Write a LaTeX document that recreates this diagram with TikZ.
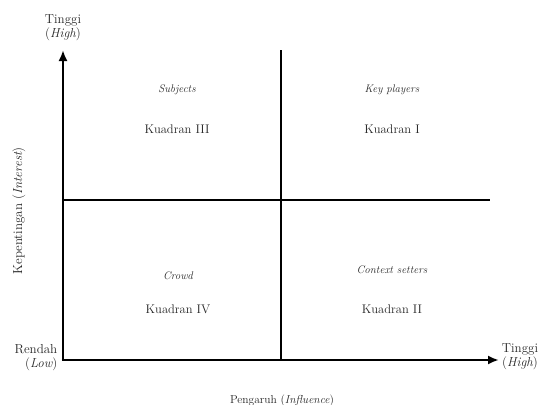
\documentclass[tikz,border=0pt]{standalone}
\usepackage{tikz}
\usetikzlibrary{arrows.meta,positioning}

\begin{document}
\begin{tikzpicture}[x=1pt, y=-1pt,
  axis/.style={line width=2.8pt, -{Latex[length=11pt,width=9pt]}},
  divider/.style={line width=1.8pt},
  quadname/.style={font=\fontsize{12.5}{14}\selectfont, text=black!85},
  role/.style={font=\fontsize{11}{13}\selectfont\itshape, text=black!85},
  axlabel/.style={font=\fontsize{13}{15}\selectfont, text=black!85, align=center, inner sep=0pt}]
  \useasboundingbox (0,0) rectangle (542,405);
  % corner points of the axes
  \coordinate (origin) at (63,360);
  \coordinate (ytip) at (63,50);
  \coordinate (xtip) at (499,360);
  \coordinate (midleft) at (63,200);
  \coordinate (midright) at (490,200);
  \coordinate (divtop) at (281,50);
  \coordinate (divbot) at (281,360);

  % dividers
  \draw[divider] (midleft) -- (midright);
  \draw[divider] (divtop) -- (divbot);

  % axes
  \draw[axis] ([yshift=1.4pt]origin) -- (ytip);
  \draw[axis] ([xshift=-1.4pt]origin) -- (xtip);

  % axis labels
  \node[axlabel] (ytop) at (63,28) {Tinggi\\[-1pt]({\itshape High})};
  \node[axlabel, align=right] (ylow) at (36,358) {Rendah\\[-1pt]({\itshape Low})};
  \node[axlabel] (xhigh) at (520,357) {Tinggi\\[-1pt]({\itshape High})};
  \node[axlabel, font=\fontsize{11.5}{13}\selectfont] (xname) at (282,401) {Pengaruh ({\itshape Influence})};
  \node[axlabel, rotate=90] (yname) at (19,211) {Kepentingan ({\itshape Interest})};

  % quadrants
  \node[role] (subj) at (177,90) {Subjects};
  \node[quadname] (q3) at (177,129) {Kuadran III};
  \node[role] (keyp) at (392,90) {Key players};
  \node[quadname] (q1) at (392,129) {Kuadran I};
  \node[role] (crowd) at (178,276) {Crowd};
  \node[quadname] (q4) at (178,309) {Kuadran IV};
  \node[role] (ctx) at (392,270) {Context setters};
  \node[quadname] (q2) at (392,309) {Kuadran II};
\end{tikzpicture}
\end{document}
